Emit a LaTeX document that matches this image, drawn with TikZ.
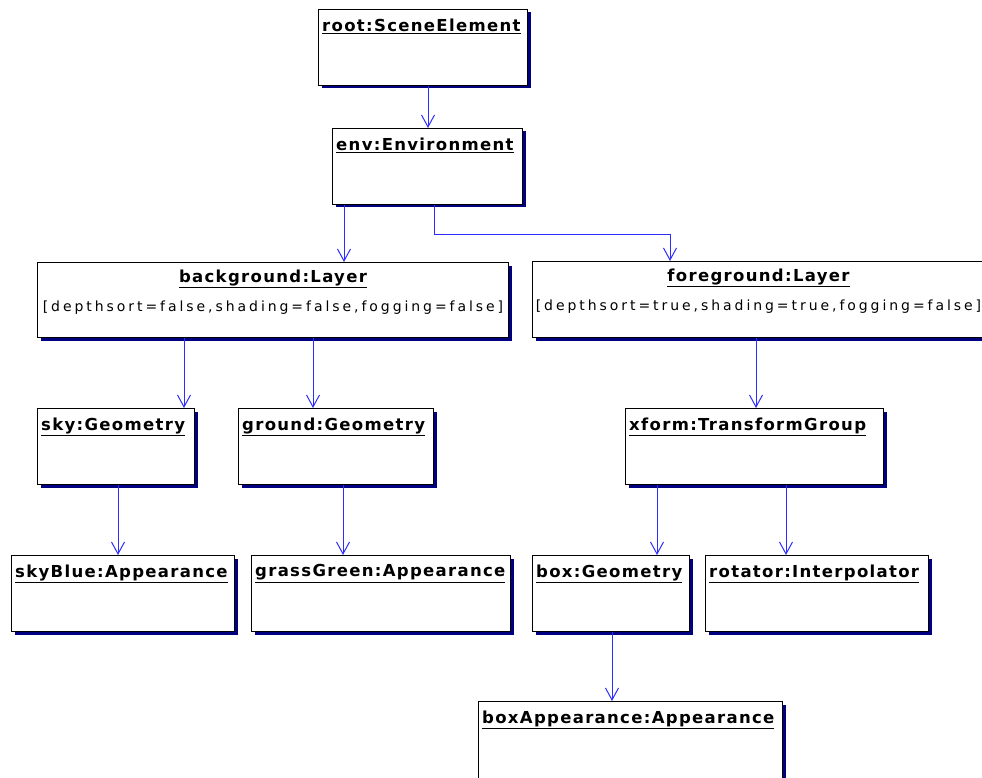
\documentclass[tikz,border=0pt]{standalone}
\usepackage{fontspec}
\newfontfamily\tfont{DejaVu Sans}[LetterSpace=8]
\newfontfamily\afont{DejaVu Sans}[LetterSpace=21]
\usetikzlibrary{arrows.meta,shadows}
\definecolor{shade}{RGB}{0,0,128}
\definecolor{conn}{RGB}{45,45,255}
\tikzset{
  obj/.style={draw=black, line width=1pt, fill=white, inner sep=0pt, anchor=north west,
    drop shadow={shadow xshift=3pt, shadow yshift=-3pt, fill=shade, opacity=1}},
  ttl/.style={anchor=north west, inner xsep=4pt, inner ysep=9.5pt, font=\fontsize{16.5}{19}\tfont\bfseries},
  ttlc/.style={anchor=north, inner xsep=0pt, inner ysep=8pt, font=\fontsize{16.5}{19}\tfont\bfseries},
  attr/.style={anchor=north, inner sep=0pt, yshift=-39pt, font=\fontsize{14}{17}\afont},
  link/.style={draw=conn, line width=1pt, -{Straight Barb[length=12pt,width=13pt,line width=1pt]}},
}
\begin{document}
\begin{tikzpicture}[x=1pt,y=-1pt]
\useasboundingbox (0,0) rectangle (982,778);
% boxes
\node[obj, minimum width=209pt, minimum height=76pt, label={[ttl]north west:\underline{root:SceneElement}}] (root) at (318,9) {};
\node[obj, minimum width=190pt, minimum height=76pt, label={[ttl]north west:\underline{env:Environment}}] (env) at (332,128) {};
\node[obj, minimum width=471pt, minimum height=75pt, label={[ttlc]north:\underline{background:Layer}}, label={[attr]north:[depthsort=false,shading=false,fogging=false]}] (bg) at (37,262) {};
\node[obj, minimum width=452pt, minimum height=76pt, label={[ttlc]north:\underline{foreground:Layer}}, label={[attr]north:[depthsort=true,shading=true,fogging=false]}] (fg) at (532,261) {};
\node[obj, minimum width=157pt, minimum height=76pt, label={[ttl]north west:\underline{sky:Geometry}}] (sky) at (37,408) {};
\node[obj, minimum width=195pt, minimum height=76pt, label={[ttl]north west:\underline{ground:Geometry}}] (ground) at (238,408) {};
\node[obj, minimum width=258pt, minimum height=76pt, label={[ttl]north west:\underline{xform:TransformGroup}}] (xform) at (625,408) {};
\node[obj, minimum width=223pt, minimum height=76pt, label={[ttl]north west:\underline{skyBlue:Appearance}}] (skyblue) at (11,555) {};
\node[obj, minimum width=259pt, minimum height=76pt, label={[ttl]north west:\underline{grassGreen:Appearance}}] (grass) at (251,555) {};
\node[obj, minimum width=157pt, minimum height=76pt, label={[ttl]north west:\underline{box:Geometry}}] (box) at (532,555) {};
\node[obj, minimum width=223pt, minimum height=76pt, label={[ttl]north west:\underline{rotator:Interpolator}}] (rot) at (705,555) {};
\node[obj, minimum width=304pt, minimum height=90pt, label={[ttl]north west:\underline{boxAppearance:Appearance}}] (boxapp) at (478,701) {};
% connector x positions
\coordinate (x1) at (428,0);
\coordinate (x2) at (344,0);
\coordinate (x3) at (434,0);
\coordinate (x4) at (670,0);
\coordinate (x5) at (184,0);
\coordinate (x6) at (313,0);
\coordinate (x7) at (756,0);
\coordinate (x8) at (118,0);
\coordinate (x9) at (343,0);
\coordinate (x10) at (657,0);
\coordinate (x11) at (786,0);
\coordinate (x12) at (612,0);
\coordinate (bend) at (0,234);
% connectors
\draw[link] (root.south -| x1) -- (env.north -| x1);
\draw[link] (env.south -| x2) -- (bg.north -| x2);
\draw[link] (env.south -| x3) -- (bend -| x3) -- (bend -| x4) -- (fg.north -| x4);
\draw[link] (bg.south -| x5) -- (sky.north -| x5);
\draw[link] (bg.south -| x6) -- (ground.north -| x6);
\draw[link] (fg.south -| x7) -- (xform.north -| x7);
\draw[link] (sky.south -| x8) -- (skyblue.north -| x8);
\draw[link] (ground.south -| x9) -- (grass.north -| x9);
\draw[link] (xform.south -| x10) -- (box.north -| x10);
\draw[link] (xform.south -| x11) -- (rot.north -| x11);
\draw[link] (box.south -| x12) -- (boxapp.north -| x12);
\end{tikzpicture}
\end{document}
